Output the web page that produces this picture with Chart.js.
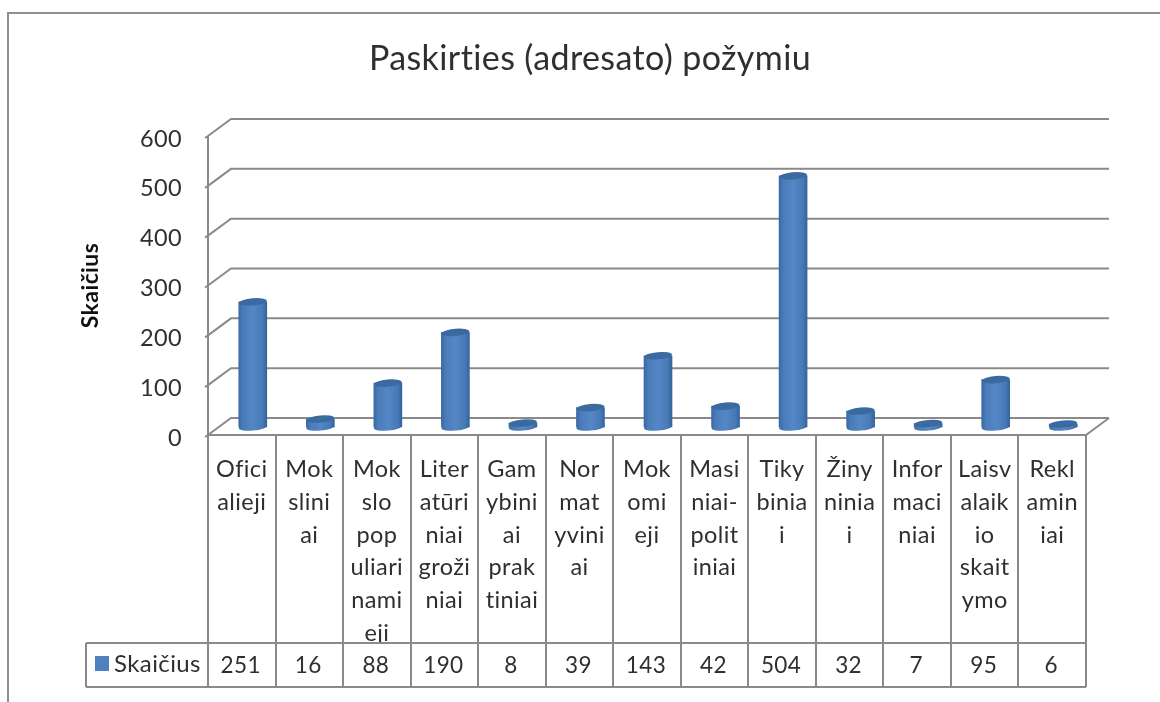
<!DOCTYPE html>
<html>
<head>
<meta charset="utf-8">
<script src="https://cdn.jsdelivr.net/npm/chart.js@4"></script>
<style>
html,body{margin:0;padding:0;background:#fff;}
canvas{display:block;filter:blur(0.45px);}
</style>
</head>
<body>
<canvas id="c" width="1160" height="702"></canvas>
<script>
const titleText = 'Paskirties (adresato) požymiu';
const seriesName = 'Skaičius';
const categories = [
  ['Ofici','alieji'],
  ['Mok','slini','ai'],
  ['Mok','slo','pop','uliari','nami','eji'],
  ['Liter','atūri','niai','groži','niai'],
  ['Gam','ybini','ai','prak','tiniai'],
  ['Nor','mat','yvini','ai'],
  ['Mok','omi','eji'],
  ['Masi','niai-','polit','iniai'],
  ['Tiky','binia','i'],
  ['Žiny','ninia','i'],
  ['Infor','maci','niai'],
  ['Laisv','alaik','io','skait','ymo'],
  ['Rekl','amin','iai']
];
const values = [251,16,88,190,8,39,143,42,504,32,7,95,6];

const FONT = 'Lato, "Open Sans", sans-serif';
const LINE = '#8a8a8a';
const TEXT = '#2f2f2f';
const depthX = 23, depthY = -17;
const barDx = 11, barDy = -8;
const ry = 3.6, tilt = -0.09;

function barGradient(ctx, x, w){
  const g = ctx.createLinearGradient(x - w/2, 0, x + w/2, 0);
  g.addColorStop(0, '#3a6aa3');
  g.addColorStop(0.15, '#4a7cb9');
  g.addColorStop(0.5, '#5587c7');
  g.addColorStop(0.85, '#4679b5');
  g.addColorStop(1, '#34649b');
  return g;
}

const frame = {
  id:'frame',
  beforeDraw(chart){
    const c = chart.ctx;
    c.letterSpacing = '0.4px';
    c.save();
    c.fillStyle = '#fff';
    c.fillRect(0,0,chart.width,chart.height);
    c.strokeStyle = '#8f8f8f';
    c.lineWidth = 2;
    c.beginPath();
    c.moveTo(8,702); c.lineTo(8,13); c.lineTo(1160,13);
    c.stroke();
    c.restore();
  }
};

const walls = {
  id:'walls',
  beforeDatasetsDraw(chart){
    const c = chart.ctx, y = chart.scales.y, a = chart.chartArea;
    c.save();
    c.strokeStyle = LINE;
    c.lineWidth = 2;
    y.ticks.forEach(t => {
      const py = y.getPixelForValue(t.value);
      c.beginPath();
      c.moveTo(a.left - 3, py + 2);
      c.lineTo(a.left, py);
      c.lineTo(a.left + depthX, py + depthY);
      c.lineTo(a.right + depthX, py + depthY);
      c.stroke();
    });
    c.beginPath();
    c.moveTo(a.left, a.top); c.lineTo(a.left, a.bottom); c.lineTo(a.right, a.bottom);
    c.lineTo(a.right + depthX, a.bottom + depthY);
    c.stroke();
    c.restore();
  }
};

const cylinders = {
  id:'cylinders',
  beforeDatasetDraw(chart, args){
    const c = chart.ctx;
    c.save();
    c.translate(barDx, barDy);
    args.meta.data.forEach(el => {
      c.fillStyle = barGradient(c, el.x, el.width);
      c.beginPath();
      c.ellipse(el.x, el.base, el.width/2, ry, tilt, 0, Math.PI*2);
      c.fill();
    });
  },
  afterDatasetDraw(chart, args){
    const c = chart.ctx;
    args.meta.data.forEach(el => {
      c.fillStyle = '#3b6aa0';
      c.beginPath();
      c.ellipse(el.x, el.y, el.width/2, ry, tilt, 0, Math.PI*2);
      c.fill();
    });
    c.restore();
  }
};

const dataTable = {
  id:'dataTable',
  afterDraw(chart){
    const c = chart.ctx, x = chart.scales.x, a = chart.chartArea;
    const rowTop = 643, rowBottom = 687, tableLeft = 86;
    const step = x.getPixelForValue(1) - x.getPixelForValue(0);
    c.save();
    c.fillStyle = '#fff';
    c.fillRect(tableLeft, rowTop, a.right - tableLeft, rowBottom - rowTop);
    c.strokeStyle = LINE;
    c.lineWidth = 2;
    c.beginPath();
    c.moveTo(tableLeft, rowTop); c.lineTo(a.right, rowTop);
    c.moveTo(tableLeft, rowBottom); c.lineTo(a.right, rowBottom);
    c.moveTo(tableLeft, rowTop); c.lineTo(tableLeft, rowBottom);
    for (let i = 0; i <= categories.length; i++){
      const px = Math.round(x.getPixelForValue(i) - step/2);
      c.moveTo(px, a.bottom); c.lineTo(px, rowBottom);
    }
    c.stroke();
    c.fillStyle = TEXT;
    c.font = '22.5px ' + FONT;
    c.textAlign = 'center';
    c.textBaseline = 'middle';
    values.forEach((v,i) => c.fillText(String(v), x.getPixelForValue(i) - 1, 666));
    c.textAlign = 'left';
    c.font = '24px ' + FONT;
    c.fillText(chart.data.datasets[0].label, 114, 664);
    c.fillStyle = '#4f81bd';
    c.fillRect(95, 656, 14, 15);
    c.restore();
  }
};

new Chart(document.getElementById('c'), {
  type:'bar',
  data:{
    labels:categories,
    datasets:[{
      label:seriesName,
      data:values,
      clip:false,
      borderWidth:0,
      barThickness:28,
      backgroundColor(ctx){
        const x = ctx.chart.scales.x;
        const px = (x && ctx.dataIndex !== undefined) ? x.getPixelForValue(ctx.dataIndex) : NaN;
        if (!Number.isFinite(px)) return '#4f81bd';
        return barGradient(ctx.chart.ctx, px, 28);
      }
    }]
  },
  plugins:[frame, walls, cylinders, dataTable],
  options:{
    responsive:false,
    animation:false,
    devicePixelRatio:1,
    layout:{padding:{left:94,right:74,top:0,bottom:0}},
    plugins:{
      legend:{display:false},
      tooltip:{enabled:false},
      title:{
        display:true,
        text:titleText,
        color:TEXT,
        font:{family:FONT,size:34,weight:'normal',lineHeight:1.2},
        padding:{top:39,bottom:56.2}
      }
    },
    scales:{
      x:{
        type:'category',
        afterFit(s){ s.height = 267; },
        grid:{display:false},
        border:{display:false},
        ticks:{
          autoSkip:false,maxRotation:0,minRotation:0,
          color:TEXT,padding:10,
          font:{family:FONT,size:23.5,lineHeight:1.396}
        }
      },
      y:{
        min:0,max:600,
        afterFit(s){ s.width = 114; },
        grid:{display:false},
        border:{display:false},
        title:{
          display:true,text:seriesName,color:'#111',
          font:{family:FONT,size:23,weight:'bold',lineHeight:1.2},
          padding:{top:-17,bottom:0}
        },
        ticks:{
          stepSize:100,color:TEXT,padding:18,labelOffset:3,
          font:{family:FONT,size:23.5}
        }
      }
    }
  }
});
</script>
</body>
</html>
